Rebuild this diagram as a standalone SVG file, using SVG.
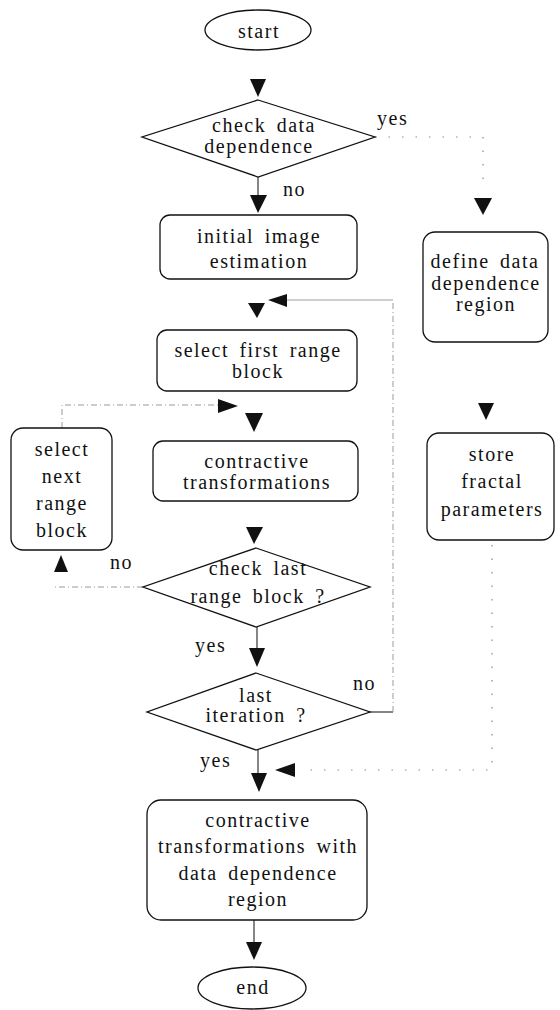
<svg xmlns="http://www.w3.org/2000/svg" width="560" height="1010" viewBox="0 0 560 1010">
<style>
  .shape { fill: #ffffff; stroke: #111111; stroke-width: 1.3; }
  text { font-family: "Liberation Serif", "Times New Roman", serif; font-size: 20px; letter-spacing: 1.5px; word-spacing: 4px; fill: #111111; }
  .c { text-anchor: middle; }
  .head { fill: #111111; stroke: none; }
  .solid { fill: none; stroke: #222222; stroke-width: 1.1; }
  .gray { fill: none; stroke: #a0a0a0; stroke-width: 1.1; }
  .dash { fill: none; stroke: #9a9a9a; stroke-width: 1; stroke-dasharray: 6 3 1 3; }
  .dot { fill: none; stroke: #8a8a8a; stroke-width: 1.2; stroke-dasharray: 1.5 12; }
</style>
<rect x="0" y="0" width="560" height="1010" fill="#ffffff"/>

<g id="connectors">
  <!-- start -> check data dependence -->
  <polygon class="head" points="250,79 266,79 258,97"/>
  <!-- check data dependence -> initial (no) -->
  <line class="solid" x1="258" y1="177" x2="258" y2="195"/>
  <polygon class="head" points="250,195 267,195 258,213"/>
  <!-- yes path -> define data dependence region -->
  <polyline class="dot" points="375,137 483,137 483,184"/>
  <polygon class="head" points="474,198 492,198 483,215"/>
  <!-- initial -> select first -->
  <polygon class="head" points="248,303 265,303 257,318"/>
  <!-- loop back from last iteration (no) -->
  <polyline class="solid" points="370,712 393,712"/>
  <polyline class="dash" points="393,712 393,300"/>
  <line class="gray" x1="393" y1="300" x2="287" y2="300"/>
  <polygon class="head" points="287,294 287,307 268,300"/>
  <!-- select first -> contractive -->
  <polygon class="head" points="245,413 263,413 254,432"/>
  <!-- check last (no) -> select next -->
  <polyline class="dash" points="143,587 55,587"/>
  <polygon class="head" points="54,572 68,572 61,555"/>
  <!-- select next -> contractive -->
  <polyline class="dash" points="62,428 62,405 218,405"/>
  <polygon class="head" points="218,399 218,413 238,406"/>
  <!-- contractive -> check last -->
  <polygon class="head" points="246,527 263,527 254,544"/>
  <!-- check last (yes) -> last iteration -->
  <line class="solid" x1="257" y1="627" x2="257" y2="648"/>
  <polygon class="head" points="249,648 265,648 257,667"/>
  <!-- last iteration (yes) -> final box -->
  <line class="solid" x1="258" y1="750" x2="258" y2="773"/>
  <polygon class="head" points="251,773 267,773 259,792"/>
  <!-- define -> store -->
  <polygon class="head" points="478,403 494,403 486,420"/>
  <!-- store -> final box (dotted) -->
  <polyline class="dot" points="492,545 492,770 300,770"/>
  <polygon class="head" points="295,763 295,777 275,770"/>
  <!-- final box -> end -->
  <line class="solid" x1="254" y1="920" x2="254" y2="942"/>
  <polygon class="head" points="246,942 262,942 254,960"/>
</g>

<g id="labels">
  <text x="377" y="125">yes</text>
  <text x="283" y="196">no</text>
  <text x="110" y="569">no</text>
  <text x="195" y="652">yes</text>
  <text x="353" y="690">no</text>
  <text x="200" y="767">yes</text>
</g>

<g id="start">
  <ellipse class="shape" cx="258" cy="30" rx="53" ry="20"/>
  <text class="c" x="259" y="38">start</text>
</g>

<g id="check-data-dependence">
  <polygon class="shape" points="258,100 375,137 258,177 142,137"/>
  <text class="c" x="264" y="132">check data</text>
  <text class="c" x="259" y="153">dependence</text>
</g>

<g id="initial-image-estimation">
  <rect class="shape" x="160" y="215" width="197" height="64" rx="10"/>
  <text class="c" x="259" y="243">initial image</text>
  <text class="c" x="259" y="268">estimation</text>
</g>

<g id="select-first-range-block">
  <rect class="shape" x="157" y="330" width="200" height="61" rx="10"/>
  <text class="c" x="258" y="357">select first range</text>
  <text class="c" x="258" y="378">block</text>
</g>

<g id="contractive-transformations">
  <rect class="shape" x="153" y="441" width="205" height="60" rx="10"/>
  <text class="c" x="257" y="468">contractive</text>
  <text class="c" x="257" y="489">transformations</text>
</g>

<g id="select-next-range-block">
  <rect class="shape" x="11" y="428" width="101" height="122" rx="12"/>
  <text class="c" x="62" y="456">select</text>
  <text class="c" x="62" y="483">next</text>
  <text class="c" x="62" y="510">range</text>
  <text class="c" x="62" y="537">block</text>
</g>

<g id="check-last-range-block">
  <polygon class="shape" points="256,548 370,587 256,627 143,587"/>
  <text class="c" x="258" y="575">check last</text>
  <text class="c" x="258" y="603">range block ?</text>
</g>

<g id="last-iteration">
  <polygon class="shape" points="256,673 370,712 256,750 147,712"/>
  <text class="c" x="256" y="702">last</text>
  <text class="c" x="256" y="722">iteration ?</text>
</g>

<g id="contractive-with-region">
  <rect class="shape" x="147" y="800" width="220" height="120" rx="14"/>
  <text class="c" x="258" y="827">contractive</text>
  <text class="c" x="258" y="853">transformations with</text>
  <text class="c" x="258" y="880">data dependence</text>
  <text class="c" x="258" y="906">region</text>
</g>

<g id="end">
  <ellipse class="shape" cx="252" cy="988" rx="54" ry="21"/>
  <text class="c" x="253" y="994">end</text>
</g>

<g id="define-data-dependence-region">
  <rect class="shape" x="423" y="232" width="125" height="110" rx="12"/>
  <text class="c" x="485" y="268">define data</text>
  <text class="c" x="486" y="290">dependence</text>
  <text class="c" x="486" y="311">region</text>
</g>

<g id="store-fractal-parameters">
  <rect class="shape" x="427" y="433" width="127" height="107" rx="12"/>
  <text class="c" x="492" y="461">store</text>
  <text class="c" x="492" y="488">fractal</text>
  <text class="c" x="492" y="516">parameters</text>
</g>
</svg>
